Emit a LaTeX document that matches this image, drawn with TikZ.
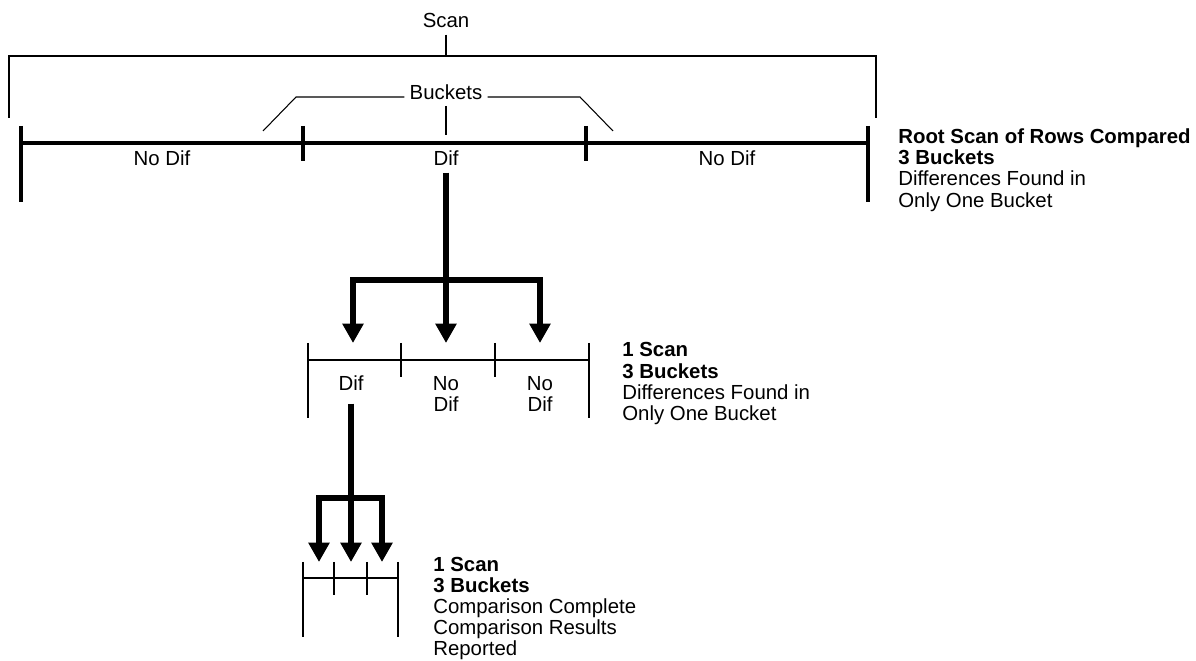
\documentclass[tikz,border=0pt]{standalone}
\usepackage{fontspec}
\setmainfont{Liberation Sans}
\usepackage{tikz}
\usetikzlibrary{arrows.meta,calc,positioning}

\begin{document}
\begin{tikzpicture}[x=0.2mm, y=-0.2mm,
  every node/.style={font=\fontsize{11.6}{12.2}\selectfont},
  thinline/.style={line width=0.6pt},
  rootline/.style={line width=1.8pt},
  roottick/.style={line width=2.5pt},
  subline/.style={line width=0.9pt},
  subtick/.style={line width=1.1pt},
  stem/.style={line width=3pt},
  flow/.style={line width=3pt, -{Triangle[length=11pt, width=11.5pt]}},
  lbl/.style={inner sep=0pt, align=center},
  info/.style={inner sep=0pt, align=left, anchor=north west}
]
\useasboundingbox (0,0) rectangle (1196,661);

% Scan bracket over the whole row
\node[lbl] (scan) at (446,20) {Scan};
\coordinate (scanbar) at (446,56);
\draw[thinline, shorten <=1.4mm] (scan.south) -- (scanbar);
\draw[thinline] (9,118) -- (9,56) -- (876,56) -- (876,118);

% Buckets bracket
\node[lbl, inner xsep=1mm, inner ysep=1.2mm] (bkt) at (446,92) {Buckets};
\coordinate (bktfoot) at (446,135);
\draw[thinline] (263,131) -- (296,97) -- (bkt.west |- 0,97);
\draw[thinline] (bkt.east |- 0,97) -- (580,97) -- (613,131);
\draw[thinline] (bkt.south) -- (bktfoot);

% Root scan: 3 buckets
\draw[rootline] (21,143) -- (868,143);
\foreach \x in {21,868} \draw[roottick] (\x,126) -- (\x,202);
\foreach \x in {303,586} \draw[roottick] (\x,126) -- (\x,161);
\node[lbl] (rnd1) at (162,158) {No Dif};
\node[lbl] (rdif) at (446,158) {Dif};
\node[lbl] (rnd2) at (727,158) {No Dif};
\node[info] (rootinfo) at (898,128) {\textbf{Root Scan of Rows Compared}\\\textbf{3 Buckets}\\Differences Found in\\Only One Bucket};

% Split of the Dif bucket
\coordinate (fork1) at (446,280);
\coordinate (m1) at (353,343);
\coordinate (m2) at (446,343);
\coordinate (m3) at (540,343);
\draw[stem, shorten <=1.4mm] (rdif.south) -- (fork1);
\draw[flow] (fork1) -| (m1);
\draw[flow] (fork1) -- (m2);
\draw[flow] (fork1) -| (m3);

% Second scan
\draw[subline] (308,360) -- (589,360);
\foreach \x in {308,589} \draw[subtick] (\x,343) -- (\x,418);
\foreach \x in {401,495} \draw[subtick] (\x,343) -- (\x,377);
\node[lbl] (mdif) at (351,383) {Dif};
\node[lbl] (mnd1) at (446,394) {No\\Dif};
\node[lbl] (mnd2) at (540,394) {No\\Dif};
\node[info] (midinfo) at (622,342) {\textbf{1 Scan}\\\textbf{3 Buckets}\\Differences Found in\\Only One Bucket};

% Split again
\coordinate (fork2) at (351,498);
\coordinate (l1) at (319,562);
\coordinate (l2) at (351,562);
\coordinate (l3) at (382,562);
\draw[stem, shorten <=2.6mm] (mdif.south) -- (fork2);
\draw[flow] (fork2) -| (l1);
\draw[flow] (fork2) -- (l2);
\draw[flow] (fork2) -| (l3);

% Last scan
\draw[subline] (303,578) -- (398,578);
\foreach \x in {303,398} \draw[subtick] (\x,562) -- (\x,637);
\foreach \x in {334,367} \draw[subtick] (\x,562) -- (\x,595);
\node[info, font=\fontsize{11.6}{12}\selectfont] (lowinfo) at (433,557) {\textbf{1 Scan}\\\textbf{3 Buckets}\\Comparison Complete\\Comparison Results\\Reported};
\end{tikzpicture}
\end{document}
